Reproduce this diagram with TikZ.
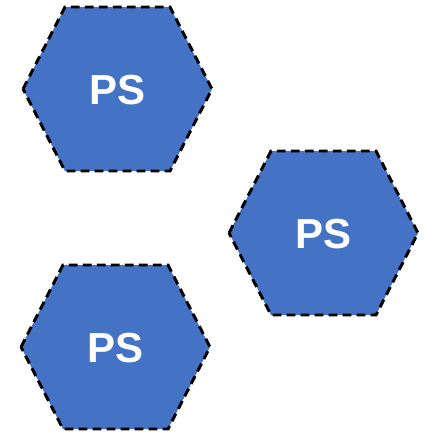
\documentclass[tikz,border=0pt]{standalone}
\usepackage{fontspec}
\setmainfont{Liberation Sans}
\begin{document}
\begin{tikzpicture}[x=0.75pt,y=-0.75pt,
  hexa/.style={fill=hexblue,draw=black,line width=2.2pt,dash pattern=on 6.5pt off 4pt},
  pslabel/.style={text=white,font=\fontsize{31.5}{36}\selectfont\bfseries,inner sep=0pt}]
\definecolor{hexblue}{HTML}{4472C4}
\useasboundingbox (0,0) rectangle (434,432);
% hexagon 1
\draw[hexa] (23,89) -- (65,7) -- (170,7) -- (212,89) -- (170,171) -- (65,171) -- cycle;
\node[pslabel] (ps1) at (117.5,90) {PS};
% hexagon 2
\draw[hexa] (229,233) -- (271,151) -- (376,151) -- (418,233) -- (376,315) -- (271,315) -- cycle;
\node[pslabel] (ps2) at (323.5,234) {PS};
% hexagon 3
\draw[hexa] (21,347) -- (63,265) -- (168,265) -- (210,347) -- (168,429) -- (63,429) -- cycle;
\node[pslabel] (ps3) at (115.5,348) {PS};
\end{tikzpicture}
\end{document}
